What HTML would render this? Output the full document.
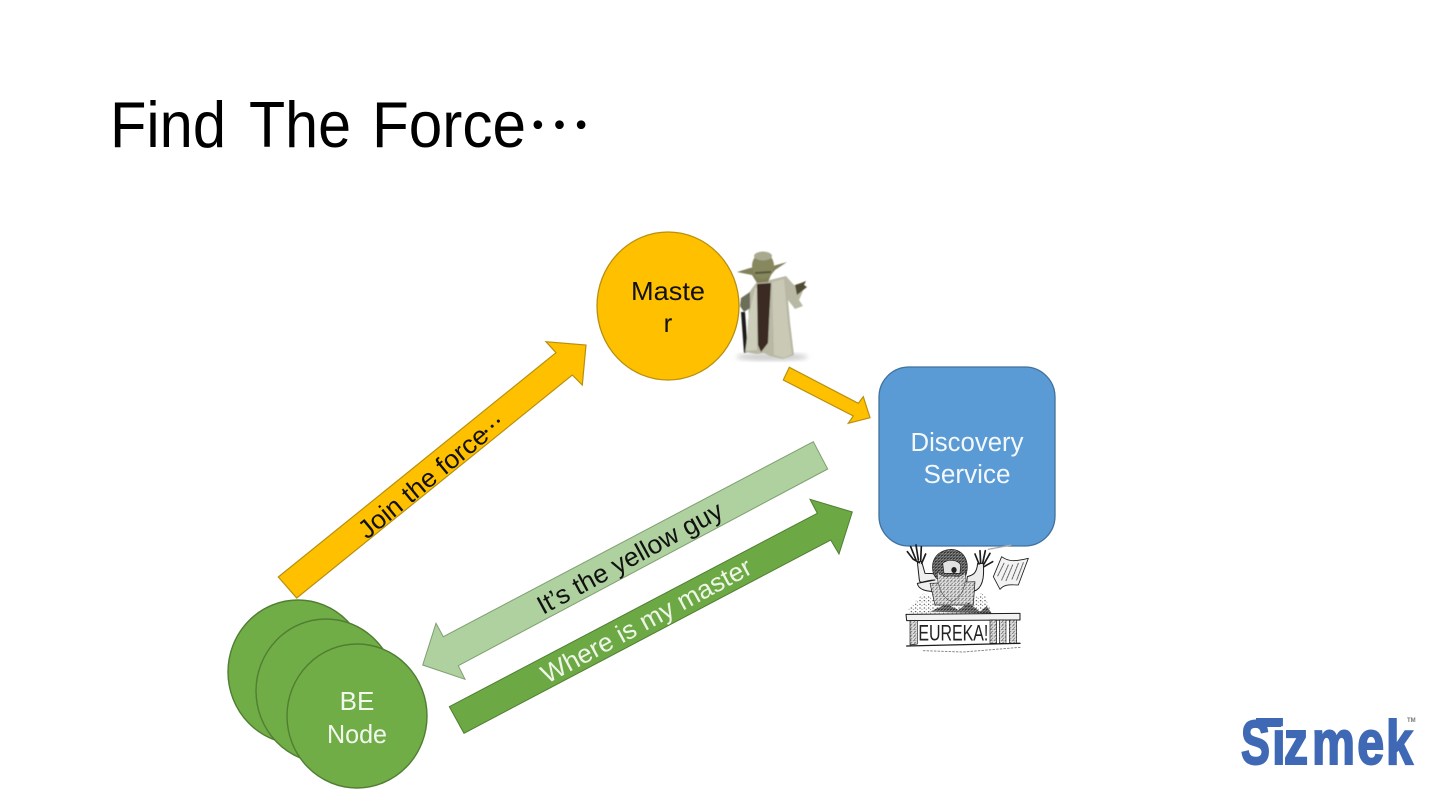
<!DOCTYPE html>
<html><head><meta charset="utf-8"><style>
html,body{margin:0;padding:0;background:#fff}
svg{display:block}
text{font-family:"Liberation Sans","Noto Sans CJK JP",sans-serif}
.j{font-family:"Noto Sans CJK JP","Liberation Sans",sans-serif}
</style></head><body>
<svg width="1440" height="810" viewBox="0 0 1440 810" xmlns="http://www.w3.org/2000/svg">
<defs>
<filter id="b1"><feGaussianBlur stdDeviation="0.6"/></filter>
<filter id="b3"><feGaussianBlur stdDeviation="2.5"/></filter>
<filter id="b5"><feGaussianBlur stdDeviation="0.5"/></filter>
<pattern id="h" width="11" height="11" patternUnits="userSpaceOnUse">
<rect width="11" height="11" fill="#e2e2e2"/>
<path d="M0 3 L6 0 M3 10 L9 6" stroke="#444" stroke-width="1.8"/>
<circle cx="8" cy="2" r="1" fill="#666"/>
</pattern>
<pattern id="d" width="9" height="9" patternUnits="userSpaceOnUse">
<rect width="9" height="9" fill="#8a8a8a"/>
<path d="M0 2 L9 5 M2 9 L8 1" stroke="#222" stroke-width="2"/>
</pattern>
<pattern id="s" width="13" height="11" patternUnits="userSpaceOnUse">
<circle cx="3" cy="3" r="1.8" fill="#333"/>
<circle cx="9" cy="7" r="1.5" fill="#555"/>
</pattern>
</defs>
<rect width="1440" height="810" fill="#fff"/>

<!-- Title -->
<text x="110" y="147" font-size="65" fill="#000" textLength="116" lengthAdjust="spacingAndGlyphs">Find</text>
<text x="249" y="147" font-size="65" fill="#000" textLength="102" lengthAdjust="spacingAndGlyphs">The</text>
<text x="372" y="147" font-size="65" fill="#000" textLength="154" lengthAdjust="spacingAndGlyphs">Force</text>
<text class="j" x="527" y="149" font-size="65" fill="#000">…</text>

<!-- Master -->
<ellipse cx="668" cy="306" rx="71" ry="74" fill="#FFC000" stroke="#B8900F" stroke-width="1.3"/>
<text x="668" y="300" font-size="26" text-anchor="middle" fill="#111" textLength="74" lengthAdjust="spacingAndGlyphs">Maste</text>
<text x="668" y="332" font-size="26" text-anchor="middle" fill="#111">r</text>

<!-- Yoda -->
<g filter="url(#b1)">
<ellipse cx="772" cy="357" rx="36" ry="4" fill="#cfcfcf" filter="url(#b3)"/>
<path d="M741 312 L745 312 L748 352 L744 353 Z" fill="#1c1c1a"/>
<path d="M748 294 L756 283 L770 280 L786 276 L793 284 L803 291 L799 300 L803 306 L795 309 L788 300 L790 322 L794 355 L783 359 L770 356 L764 353 L757 354 L745 352 L749 325 Z" fill="#b8b8a4"/>
<path d="M772 282 L784 279 L788 325 L792 354 L784 358 L774 355 Z" fill="#c9c9b6"/>
<path d="M748 320 L755 288 L757 288 L757 350 L746 351 Z" fill="#cdcdbb"/>
<path d="M757 284 L771 283 L769 320 L768 343 L761 352 L758 345 Z" fill="#3a2a22"/>
<path d="M741 298 L750 292 L750 308 L744 312 L740 306 Z" fill="#6c6e5a"/>
<path d="M737 272 L750 268 L760 266 L773 266 L787 262 L775 270 L771 275 L768 282 L757 283 L752 275 Z" fill="#80805a"/>
<ellipse cx="763" cy="266" rx="11" ry="13" fill="#88885e"/>
<ellipse cx="763" cy="256" rx="9" ry="4.5" fill="#a9a990"/>
<path d="M755 273 L771 272" stroke="#54543a" stroke-width="2"/>
<path d="M795 285 L801 283 L806 281 L804 285 L807 287 L802 291 L797 295 Z" fill="#504c30"/>
</g>

<!-- Discovery -->
<rect x="879" y="367" width="176" height="179" rx="30" ry="30" fill="#5B9BD5" stroke="#41719C" stroke-width="1.3"/>
<text x="967" y="451" font-size="25.5" text-anchor="middle" fill="#f4f8fc" textLength="113" lengthAdjust="spacingAndGlyphs">Discovery</text>
<text x="967" y="483" font-size="25.5" text-anchor="middle" fill="#f4f8fc" textLength="87" lengthAdjust="spacingAndGlyphs">Service</text>

<!-- Eureka (drawn in zoom coordinates) -->
<g transform="translate(880,530) scale(.33333)" filter="url(#b5)" stroke="#1a1a1a" stroke-linecap="round" stroke-linejoin="round">
<path d="M85 235 L130 190 L180 215 L270 215 L310 185 L335 250 L90 255 Z" fill="url(#s)" stroke="none"/>
<path d="M165 150 C135 150 120 165 118 150 L112 95 L125 95 L135 130 C150 130 160 130 175 135 L175 185 C140 185 115 180 112 160 Z" fill="#efefef" stroke-width="3"/>
<path d="M262 140 C280 135 290 130 293 100 L310 100 C312 130 312 165 290 180 L255 195 Z" fill="#ececec" stroke-width="3"/>
<path d="M118 98 L100 88 L82 65 M108 90 L92 50 M115 90 L108 45 M122 92 L124 50 M125 100 L137 72" fill="none" stroke-width="5"/>
<path d="M297 102 L285 72 M302 100 L300 62 M308 100 L316 62 M312 102 L330 70 M312 110 L338 95" fill="none" stroke-width="5"/>
<path d="M150 160 L285 155 L280 225 L165 225 Z" fill="url(#h)" stroke-width="2"/>
<path d="M160 130 C150 90 172 60 215 58 C252 60 270 95 258 135 C252 150 242 155 235 150 L190 150 C176 152 166 145 160 130 Z" fill="url(#d)" stroke-width="2"/>
<path d="M188 100 C205 85 235 90 242 105 L240 130 L192 130 Z" fill="#e2e2e2" stroke-width="2"/>
<ellipse cx="222" cy="120" rx="8" ry="9" fill="#222" stroke="none"/>
<path d="M172 125 C170 170 190 208 215 214 C242 208 260 170 256 125 C242 145 230 138 215 138 C200 138 188 145 172 125 Z" fill="url(#h)" stroke-width="1.5"/>
<path d="M150 245 L200 222 L235 240 L265 218 L300 245 L320 228 L335 250 Z" fill="url(#d)" stroke="none"/>
<path d="M78 253 L420 250 L420 270 L80 272 Z" fill="#f2f2f2" stroke-width="3"/>
<path d="M90 272 L112 272 L112 342 L90 345 Z M330 270 L350 270 L350 340 L330 340 Z M358 270 L378 270 L378 340 L358 340 Z M388 270 L410 270 L410 340 L388 340 Z" fill="url(#h)" stroke-width="2"/>
<path d="M80 348 L420 340" fill="none" stroke-width="4"/>
<path d="M130 362 L250 366 L420 352" fill="none" stroke="#888" stroke-width="3" stroke-dasharray="5 6"/>
<text x="115" y="332" font-size="66" fill="#222" stroke="none" textLength="210" lengthAdjust="spacingAndGlyphs">EUREKA!</text>
<path d="M340 140 L365 80 C385 95 405 95 445 85 L415 165 C395 165 375 160 360 178 Z" fill="#f3f3f3" stroke-width="2.5"/>
<path d="M372 100 L352 140 M385 105 L365 150 M398 105 L378 152 M415 100 L395 150 M430 98 L410 150" stroke="#666" stroke-width="3" fill="none" stroke-dasharray="6 3"/>
<path d="M325 58 L395 45" fill="none" stroke="#aaa" stroke-width="4" stroke-dasharray="6 3"/>
</g>

<!-- Arrows -->
<polygon points="278.3,577 556,352.7 546,341.7 586,345 582.3,385 572.3,375 296.7,598" fill="#FFC000" stroke="#B8900F" stroke-width="1.2"/>
<polygon points="789.3,367.3 858.3,403.3 863.3,396.7 870,417.7 848.3,423.3 853.3,416 783.3,380" fill="#FFC000" stroke="#B8900F" stroke-width="1.2"/>
<polygon points="813.3,441.7 443.3,636.7 436,623.3 422.7,665 465,679.3 458.3,665.7 827.7,469" fill="#AED19F" stroke="#7F9F70" stroke-width="1"/>
<polygon points="449.3,706.7 817.3,513.3 810,499.3 852.3,512 839,554 830.7,540 464,733.3" fill="#6CA944" stroke="#507E32" stroke-width="1"/>

<!-- Arrow labels -->
<g transform="translate(367,540) rotate(-39.5)">
<text x="0" y="0" font-size="26" fill="#111" textLength="160" lengthAdjust="spacingAndGlyphs">Join the force</text>
<text class="j" x="157" y="1" font-size="24" fill="#111">…</text>
</g>
<g transform="translate(543,615) rotate(-28.5)">
<text x="0" y="0" font-size="26" fill="#111" textLength="207" lengthAdjust="spacingAndGlyphs">It’s the yellow guy</text>
</g>
<g transform="translate(547,684) rotate(-28.3)">
<text x="0" y="0" font-size="26" fill="#eef5e8" textLength="235" lengthAdjust="spacingAndGlyphs">Where is my master</text>
</g>

<!-- BE nodes -->
<ellipse cx="298" cy="672" rx="70" ry="72" fill="#70AD47" stroke="#507E32" stroke-width="1.4"/>
<ellipse cx="326" cy="691" rx="70" ry="72" fill="#70AD47" stroke="#507E32" stroke-width="1.4"/>
<ellipse cx="357" cy="716" rx="70" ry="72" fill="#70AD47" stroke="#507E32" stroke-width="1.4"/>
<text x="357" y="710" font-size="26" text-anchor="middle" fill="#f2f7ee">BE</text>
<text x="357" y="743" font-size="26" text-anchor="middle" fill="#f2f7ee" textLength="60" lengthAdjust="spacingAndGlyphs">Node</text>

<!-- Sizmek logo -->
<g fill="#3F69B5" stroke="#3F69B5" stroke-width="2" font-size="62" font-weight="700">
<text transform="translate(1241,764) scale(.7,1)" x="0" y="0">S</text>
<text transform="translate(0,764) scale(.78,1)" y="0" x="1631 1646 1682 1740 1777">izmek</text>
<rect x="1256" y="718" width="25" height="9" stroke="none"/>
</g>
<text x="1407" y="722" font-size="6" font-weight="700" fill="#777">TM</text>
</svg>
</body></html>
